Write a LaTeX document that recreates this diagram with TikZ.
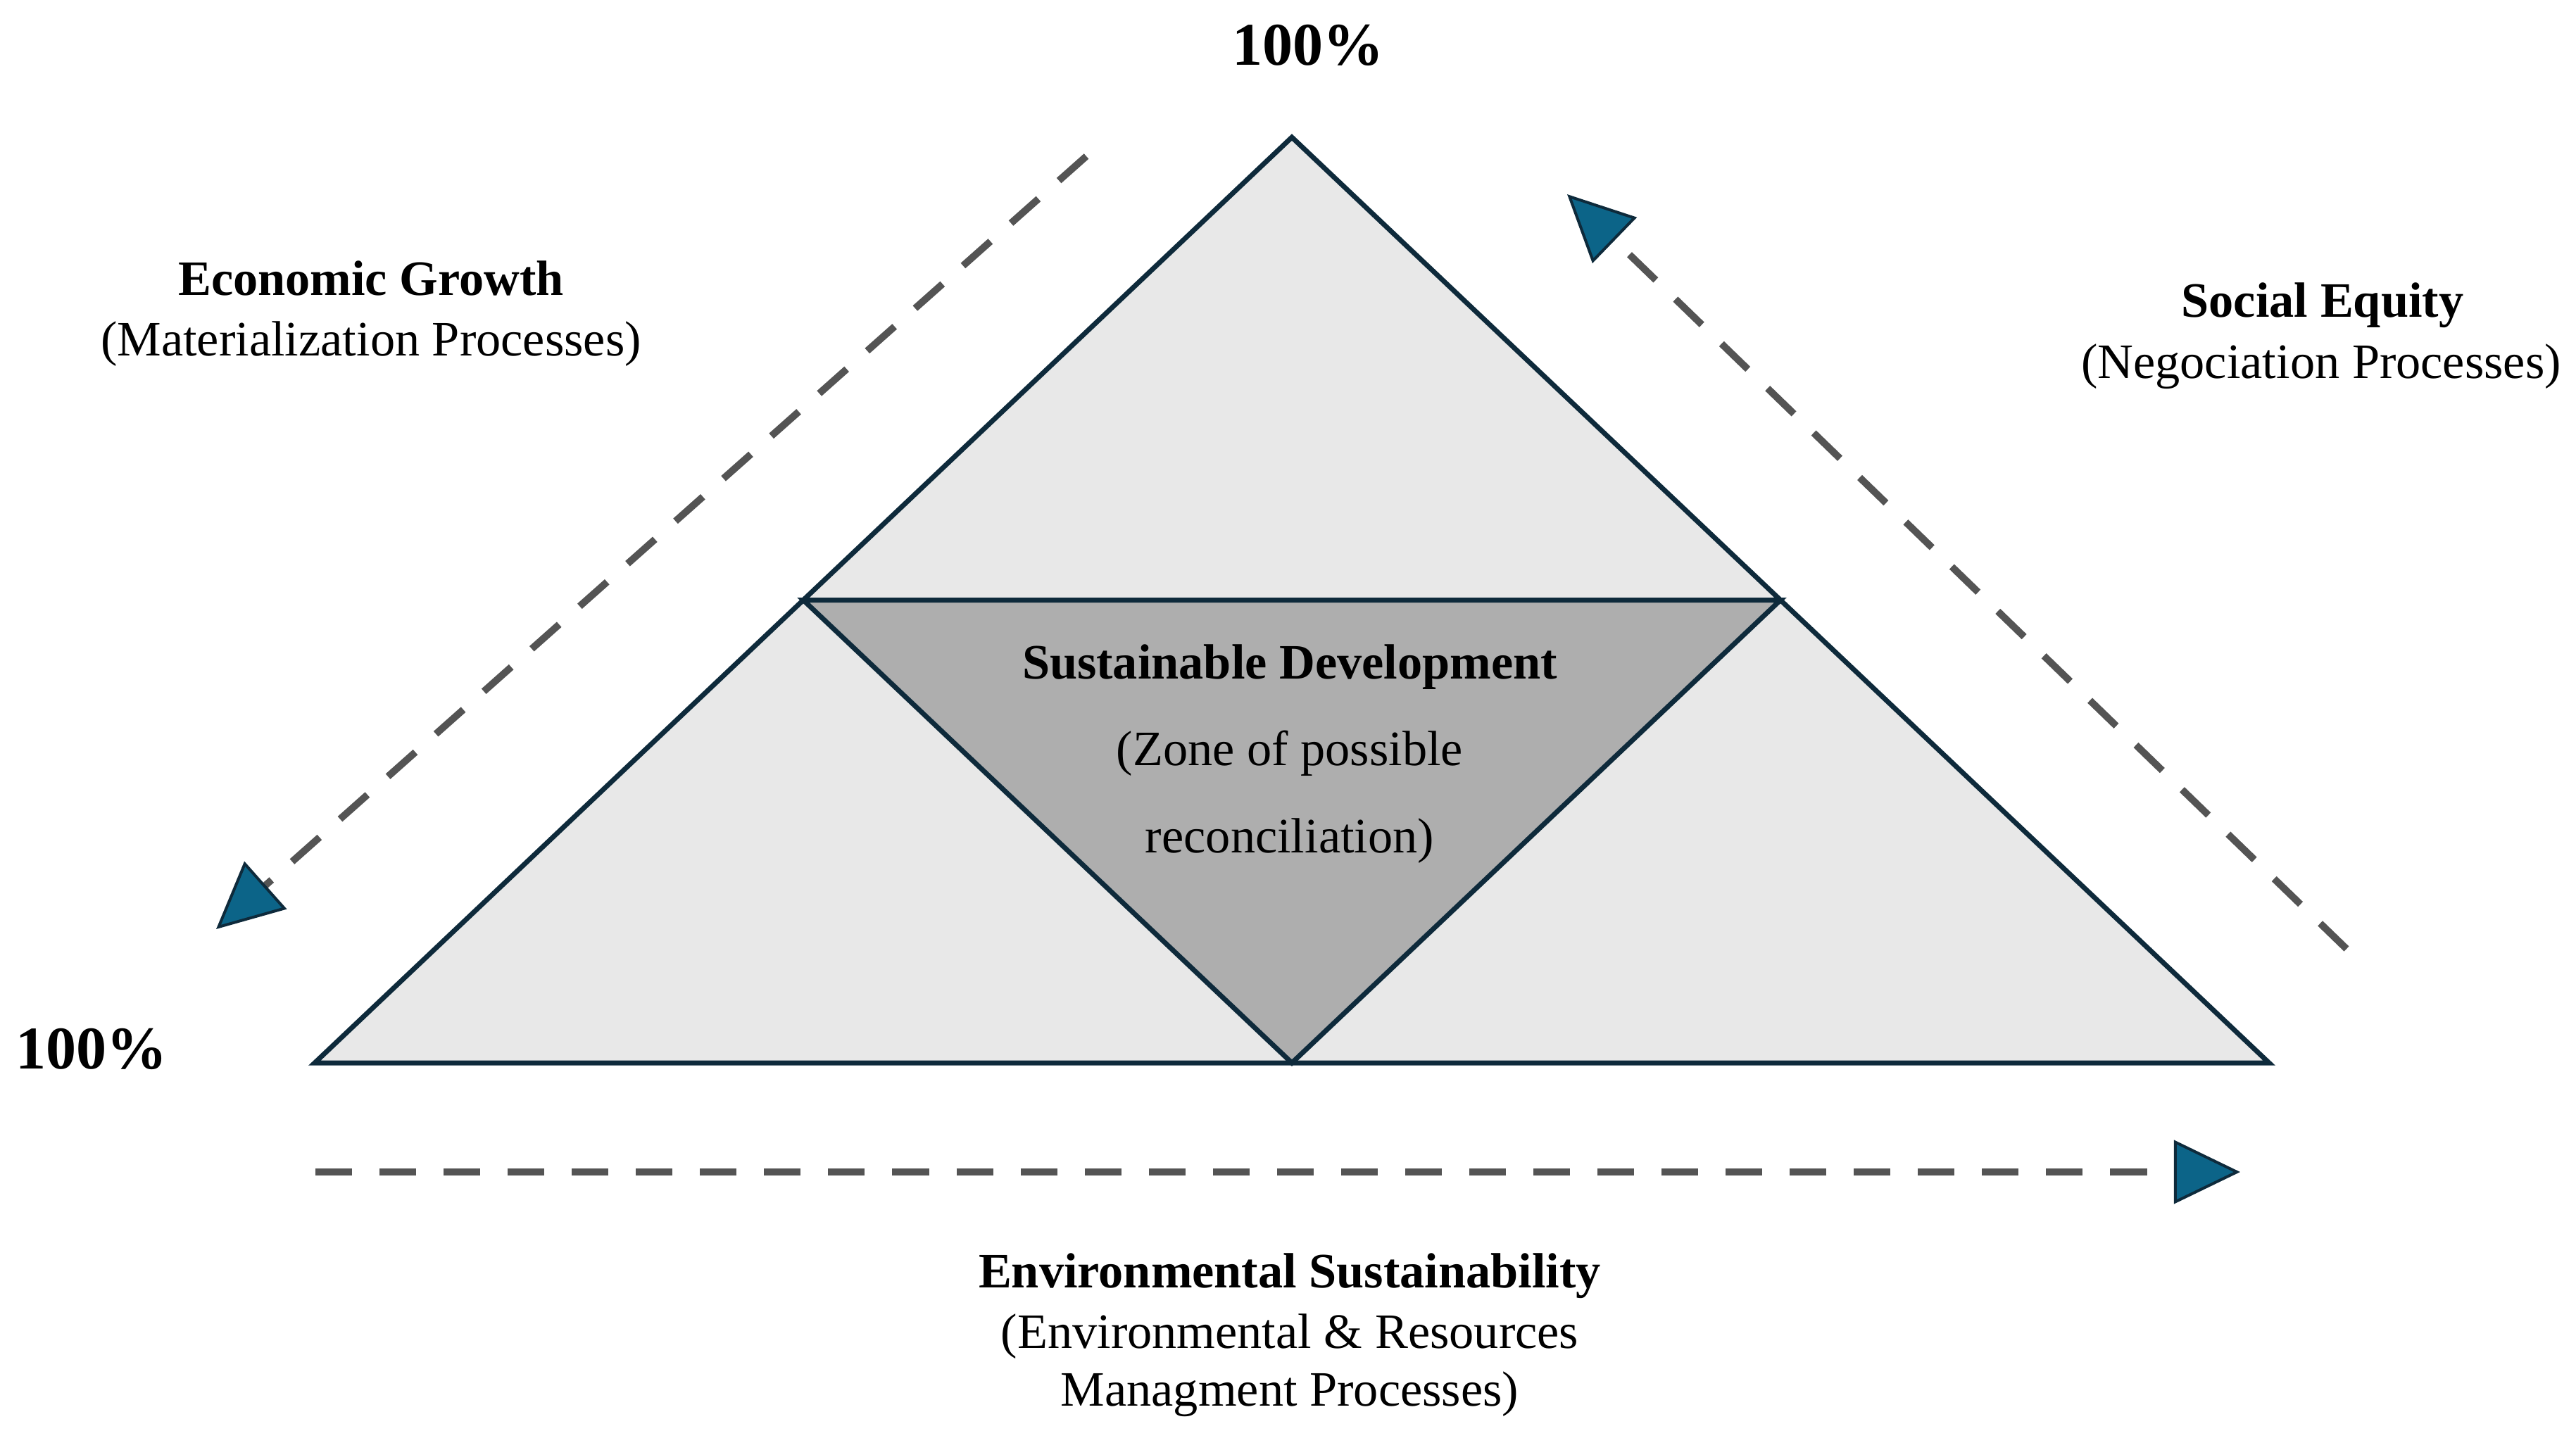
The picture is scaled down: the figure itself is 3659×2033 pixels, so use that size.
\documentclass[tikz,border=0pt]{standalone}
\usepackage{fontspec}
\setmainfont{Liberation Serif}
\usetikzlibrary{calc,arrows.meta}
\definecolor{edgecol}{HTML}{0E2A3B}
\definecolor{outerfill}{HTML}{E8E8E8}
\definecolor{innerfill}{HTML}{AEAEAE}
\definecolor{tipfill}{HTML}{0C6488}
\definecolor{dashcol}{HTML}{545454}
\tikzset{
  tri/.style={draw=edgecol, line width=0.7mm, line join=miter},
  lbl/.style={anchor=base, inner sep=0pt, font=\fontsize{20pt}{24pt}\selectfont},
  lblb/.style={lbl, font=\fontsize{20pt}{24pt}\selectfont\bfseries},
  pct/.style={anchor=base, inner sep=0pt, font=\fontsize{24.5pt}{28pt}\selectfont\bfseries},
  flow/.style={draw=dashcol, line width=1.0mm, dash pattern=on 5.2mm off 3.9mm,
    -{Triangle[length=9.4mm, width=9mm, line width=0.4mm, color=edgecol, fill=tipfill]}}
}
\begin{document}
\begin{tikzpicture}[x=0.01cm, y=-0.01cm]
\useasboundingbox (0,0) rectangle (3659,2033);
% main triangle
\coordinate (A) at (1835,195);
\coordinate (B) at (447,1510);
\coordinate (C) at (3223,1510);
\coordinate (mAB) at ($(A)!0.5!(B)$);
\coordinate (mAC) at ($(A)!0.5!(C)$);
\coordinate (mBC) at ($(B)!0.5!(C)$);
\fill[outerfill] (A) -- (B) -- (C) -- cycle;
\fill[innerfill] (mAB) -- (mAC) -- (mBC) -- cycle;
\draw[tri] (mAB) -- (mAC) -- (mBC) -- cycle;
\draw[tri] (A) -- (B) -- (C) -- cycle;
% flow arrows
\coordinate (econS) at (1543,222);
\coordinate (econE) at (307,1320);
\coordinate (socS) at (3333,1348);
\coordinate (socE) at (2226,276);
\coordinate (envS) at (448,1665);
\coordinate (envE) at (3182,1665);
\draw[flow] (econS) -- (econE);
\draw[flow] (socS) -- (socE);
\draw[flow] (envS) -- (envE);
% percentages
\node[pct] (ptop) at (1858,92) {100\%};
\node[pct] (pleft) at (130,1518) {100\%};
% labels
\node[lblb] (econ1) at (527,419) {Economic Growth};
\node[lbl] (econ2) at (527,505) {(Materialization Processes)};
\node[lblb] (soc1) at (3299,450) {Social Equity};
\node[lbl] (soc2) at (3297,537) {(Negociation Processes)};
\node[lblb] (sd1) at (1832,964) {Sustainable Development};
\node[lbl] (sd2) at (1832,1087) {(Zone of possible};
\node[lbl] (sd3) at (1832,1211) {reconciliation)};
\node[lblb] (env1) at (1832,1829) {Environmental Sustainability};
\node[lbl] (env2) at (1832,1915) {(Environmental \& Resources};
\node[lbl] (env3) at (1832,1997) {Managment Processes)};
\end{tikzpicture}
\end{document}
